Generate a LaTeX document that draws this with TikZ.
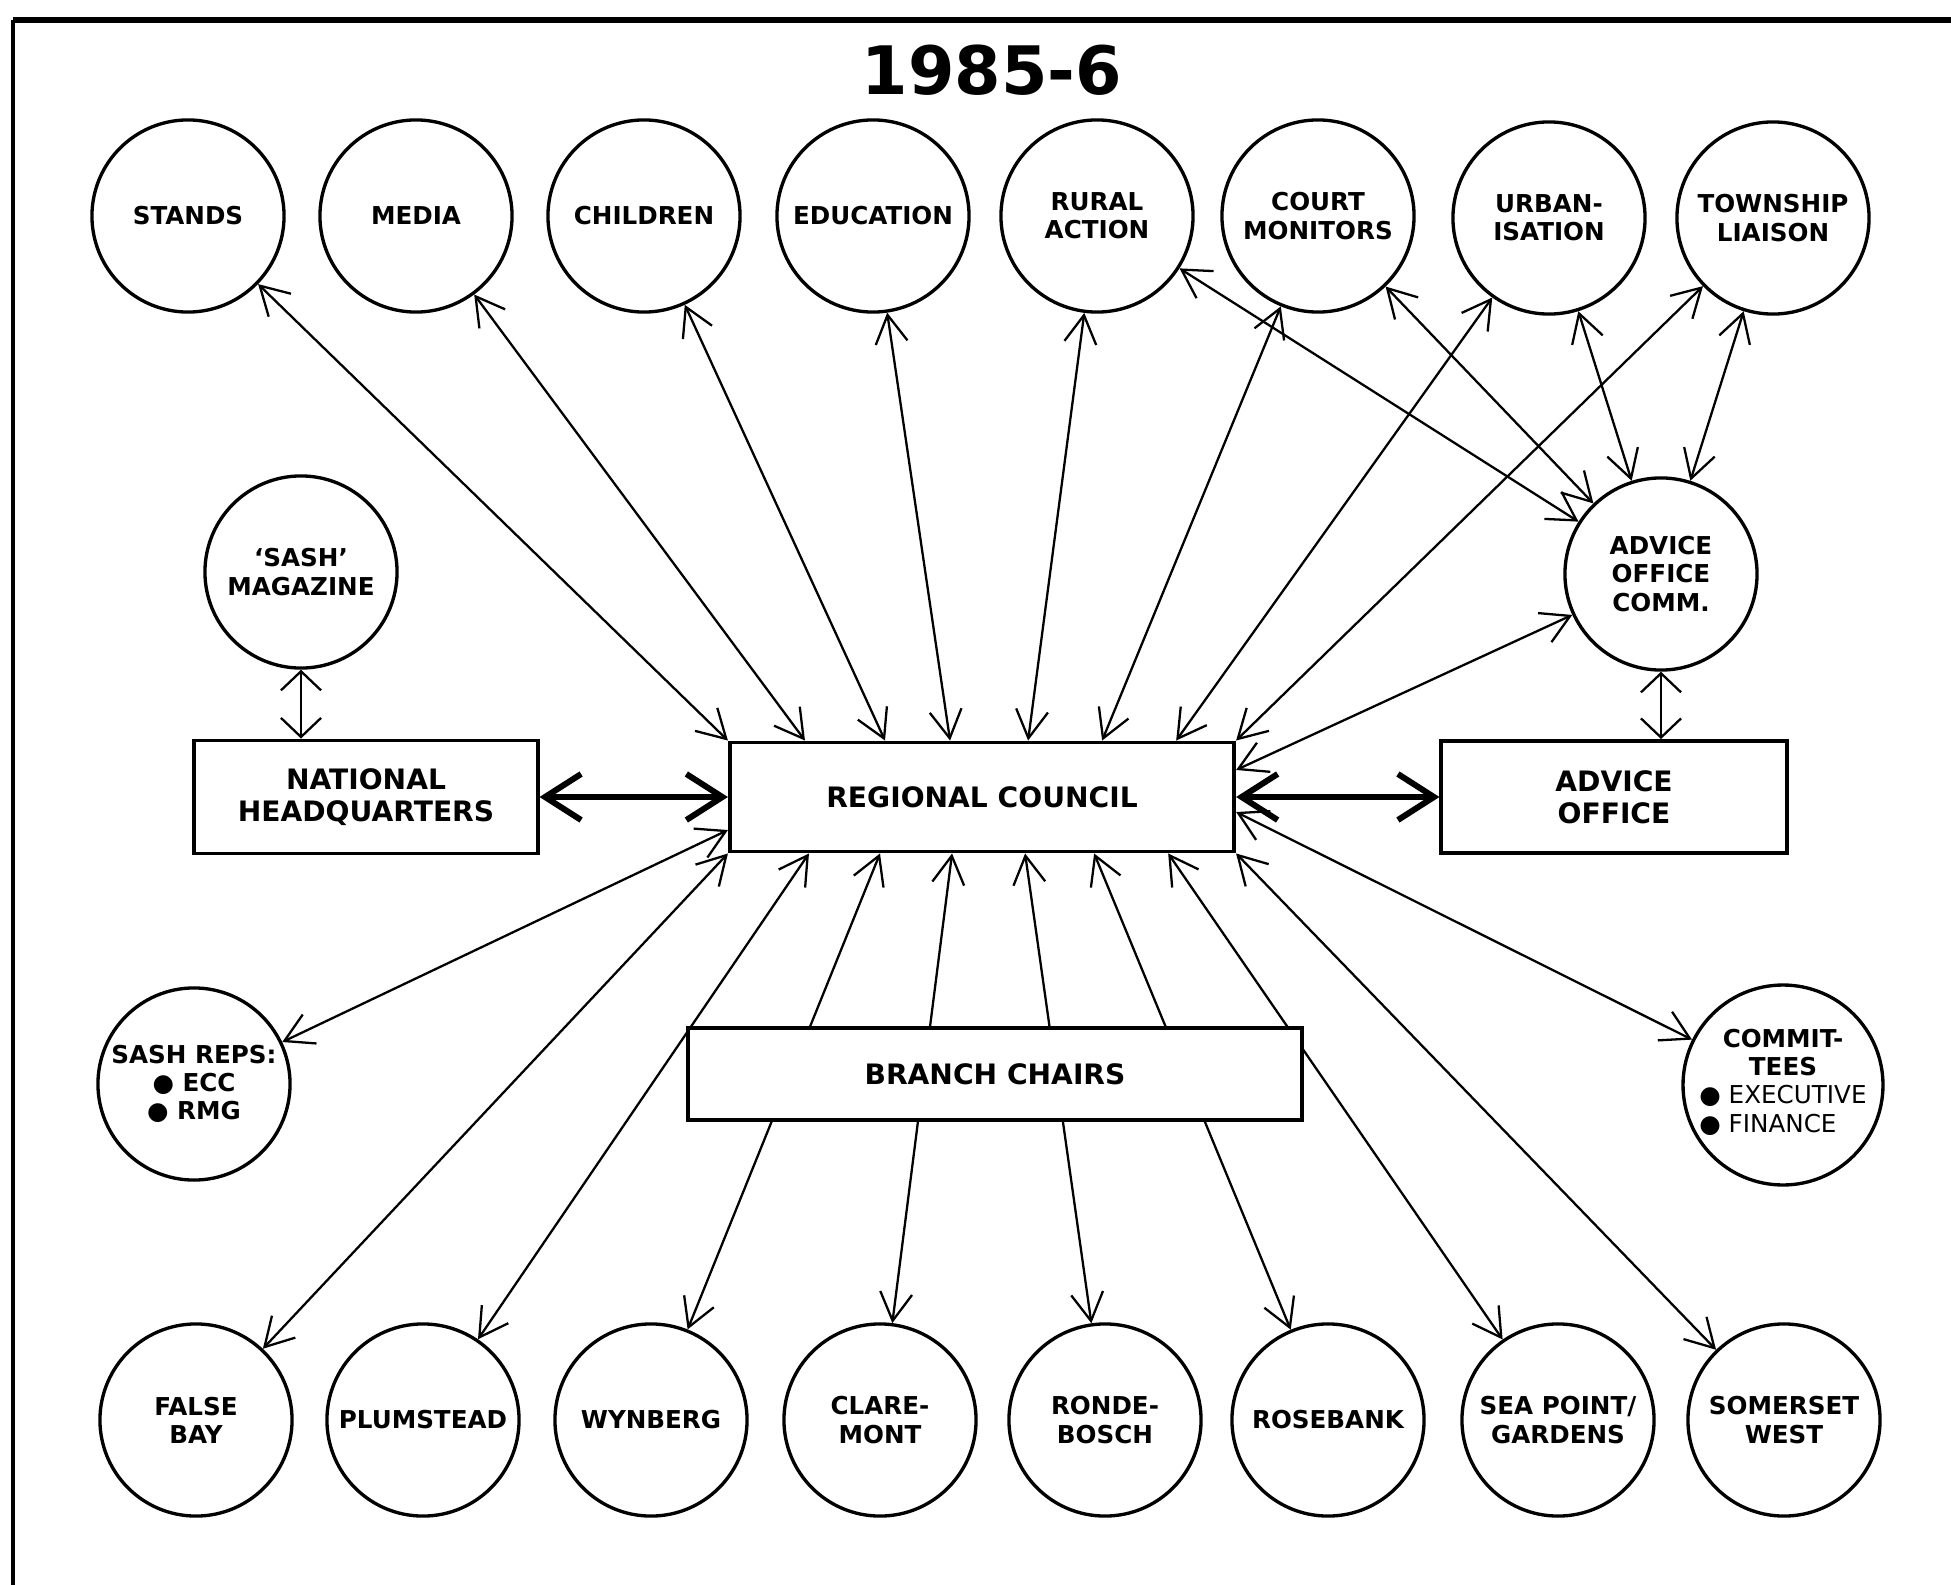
\documentclass[tikz,border=0pt]{standalone}
\usepackage{fontspec}
\setmainfont{DejaVu Sans}
\usepackage{tikz}
\usetikzlibrary{arrows.meta}

\begin{document}
\begin{tikzpicture}[x=0.01cm, y=-0.01cm,
  >={Straight Barb[length=2.8mm, width=3.2mm]},
  unit/.style={circle, draw, line width=0.95pt, minimum size=1.92cm, inner sep=0pt,
    align=center, font=\fontsize{7}{8}\selectfont\bfseries},
  board/.style={rectangle, draw, fill=white, line width=1.1pt, inner sep=0pt,
    align=center, font=\fontsize{8}{9}\selectfont\bfseries},
  link/.style={<->, line width=0.65pt},
  shortlink/.style={<->, line width=0.65pt, >={Straight Barb[length=1.9mm, width=4.0mm]}},
  mainlink/.style={<->, line width=1.7pt, >={Straight Barb[length=3.6mm, width=4.6mm]}}]

  \useasboundingbox (0,0) rectangle (1951,1585);

  % Frame
  \draw[line width=1.1pt] (13,1585) -- (13,20);
  \draw[line width=1.7pt] (13,20) -- (1951,20);

  % Title
  \node[font=\fontsize{19}{22}\selectfont\bfseries] (title) at (992,70) {1985-6};

  % Top row
  \node[unit] (stands) at (188,216) {STANDS};
  \node[unit] (media) at (416,216) {MEDIA};
  \node[unit] (children) at (644,216) {CHILDREN};
  \node[unit] (education) at (873,216) {EDUCATION};
  \node[unit] (rural) at (1097,216) {RURAL\\ACTION};
  \node[unit] (court) at (1318,216) {COURT\\MONITORS};
  \node[unit] (urban) at (1549,218) {URBAN-\\ISATION};
  \node[unit] (township) at (1773,218) {TOWNSHIP\\LIAISON};

  % Middle
  \node[unit] (mag) at (301,572) {‘SASH’\\MAGAZINE};
  \node[unit] (aoc) at (1661,574) {ADVICE\\OFFICE\\COMM.};
  \node[board, minimum width=3.43cm, minimum height=1.13cm] (nhq) at (366,797) {NATIONAL\\HEADQUARTERS};
  \node[board, minimum width=5.04cm, minimum height=1.09cm] (rc) at (982,797) {REGIONAL COUNCIL};
  \node[board, minimum width=3.45cm, minimum height=1.12cm] (ao) at (1614,797) {ADVICE\\OFFICE};
  \node[unit] (reps) at (194,1084) {SASH REPS:\\● ECC\\● RMG};
  \node[unit] (cttees) at (1783,1085)
    {COMMIT-\\TEES\\{\mdseries\begin{tabular}[t]{@{}l@{}}● EXECUTIVE\\● FINANCE\end{tabular}}};

  % Bottom row (branches)
  \node[unit] (falsebay) at (196,1420) {FALSE\\BAY};
  \node[unit] (plumstead) at (423,1420) {PLUMSTEAD};
  \node[unit] (wynberg) at (651,1420) {WYNBERG};
  \node[unit] (claremont) at (880,1420) {CLARE-\\MONT};
  \node[unit] (rondebosch) at (1105,1420) {RONDE-\\BOSCH};
  \node[unit] (rosebank) at (1328,1420) {ROSEBANK};
  \node[unit] (seapoint) at (1558,1420) {SEA POINT\slash\\GARDENS};
  \node[unit] (somerset) at (1784,1420) {SOMERSET\\WEST};

  % Portfolios <-> regional council
  \draw[link] (stands) -- (rc.north west);
  \draw[link] (media) -- ([xshift=0.77cm]rc.north west);
  \draw[link] (children) -- ([xshift=1.57cm]rc.north west);
  \draw[link] (education) -- ([xshift=2.22cm]rc.north west);
  \draw[link] (rural) -- ([xshift=3.0cm]rc.north west);
  \draw[link] (court) -- ([xshift=3.74cm]rc.north west);
  \draw[link] (urban) -- ([xshift=4.48cm]rc.north west);
  \draw[link] (township) -- (rc.north east);

  % Portfolios <-> advice office comm.
  \draw[link] (rural) -- (aoc);
  \draw[link] (court) -- (aoc);
  \draw[link] (urban) -- (aoc);
  \draw[link] (township) -- (aoc);
  \draw[link] (aoc) -- ([yshift=0.27cm]rc.east);
  \draw[shortlink] (aoc) -- (aoc |- ao.north);

  % Headquarters and advice office
  \draw[shortlink] (mag) -- (mag |- nhq.north);
  \draw[mainlink] (nhq) -- (rc);
  \draw[mainlink] (rc) -- (ao);

  % Lower half
  \draw[link] (reps) -- ([yshift=-0.33cm]rc.west);
  \draw[link] (cttees) -- ([yshift=-0.15cm]rc.east);
  \draw[link] (falsebay) -- (rc.south west);
  \draw[link] (plumstead) -- ([xshift=0.81cm]rc.south west);
  \draw[link] (wynberg) -- ([xshift=1.52cm]rc.south west);
  \draw[link] (claremont) -- ([xshift=2.24cm]rc.south west);
  \draw[link] (rondebosch) -- ([xshift=2.97cm]rc.south west);
  \draw[link] (rosebank) -- ([xshift=3.66cm]rc.south west);
  \draw[link] (seapoint) -- ([xshift=4.40cm]rc.south west);
  \draw[link] (somerset) -- (rc.south east);

  % Branch chairs box sits over the lines
  \node[board, minimum width=6.14cm, minimum height=0.92cm] (chairs) at (995,1074) {BRANCH CHAIRS};

\end{tikzpicture}
\end{document}
